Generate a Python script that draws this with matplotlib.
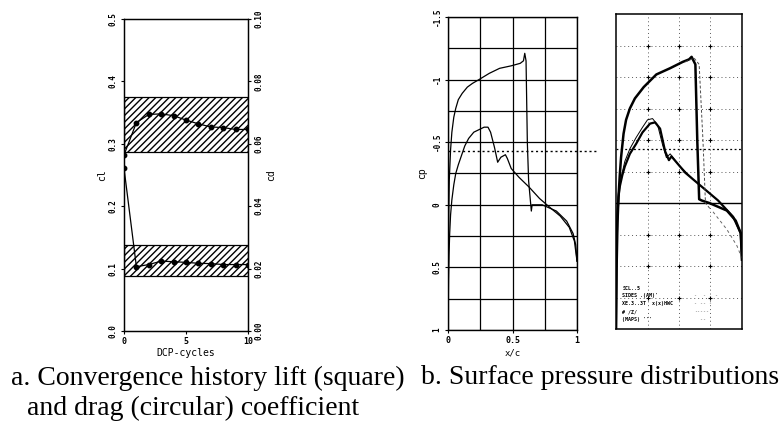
import numpy as np
import matplotlib
matplotlib.use("Agg")
import matplotlib.pyplot as plt

# ---- panel a : convergence history ----
cycles = [0, 1, 2, 3, 4, 5, 6, 7, 8, 9, 10]
cl_hist = [0.282, 0.334, 0.347, 0.348, 0.345, 0.338, 0.332, 0.327, 0.326, 0.323, 0.323]
cd_hist = [0.0522, 0.0206, 0.0213, 0.0224, 0.0222, 0.0220, 0.0217, 0.0216, 0.0213, 0.0213, 0.0213]
cl_band = (0.287, 0.375)
cd_band = (0.0176, 0.0276)
cl_ticks = [0.0, 0.1, 0.2, 0.3, 0.4, 0.5]
cd_ticks = [0.0, 0.02, 0.04, 0.06, 0.08, 0.10]

# ---- panel b : surface pressure, computed ----
xu = [0, 0.001, 0.003, 0.006, 0.01, 0.02, 0.03, 0.045, 0.06, 0.08, 0.11, 0.15, 0.19, 0.24,
      0.32, 0.40, 0.49, 0.56, 0.585, 0.595, 0.605, 0.615, 0.625, 0.646, 0.652, 0.73, 0.84,
      0.92, 0.97, 0.99, 1.0]
cpu = [1.0, 0.7, 0.35, 0.05, -0.2, -0.44, -0.58, -0.70, -0.77, -0.84, -0.89, -0.94, -0.97,
       -1.0, -1.05, -1.09, -1.11, -1.13, -1.15, -1.21, -1.15, -0.5, -0.19, 0.05, 0.0, 0.0,
       0.05, 0.13, 0.23, 0.32, 0.45]
xl = [0, 0.004, 0.008, 0.013, 0.02, 0.03, 0.045, 0.06, 0.08, 0.10, 0.13, 0.16, 0.20, 0.24,
      0.28, 0.31, 0.33, 0.36, 0.385, 0.41, 0.445, 0.46, 0.49, 0.55, 0.63, 0.71, 0.80, 0.87,
      0.94, 0.98, 1.0]
cpl = [1.0, 0.6, 0.4, 0.23, 0.08, -0.04, -0.16, -0.25, -0.32, -0.38, -0.47, -0.53, -0.58,
       -0.60, -0.62, -0.62, -0.58, -0.46, -0.34, -0.38, -0.40, -0.37, -0.29, -0.22, -0.14,
       -0.05, 0.03, 0.09, 0.18, 0.29, 0.45]
cp_star = -0.43

# ---- panel b : comparison plot ----
xu2 = [0, 0.005, 0.012, 0.02, 0.03, 0.04, 0.06, 0.08, 0.11, 0.15, 0.22, 0.32, 0.43, 0.53,
       0.58, 0.60, 0.63, 0.645, 0.66, 0.68, 0.74, 0.88, 0.95, 0.99, 1.0]
cpu2 = [1.0, 0.5, 0.15, -0.05, -0.22, -0.36, -0.55, -0.66, -0.75, -0.83, -0.92, -1.02,
        -1.07, -1.12, -1.14, -1.16, -1.10, -0.5, -0.03, -0.02, 0.0, 0.06, 0.14, 0.24, 0.45]
xl2 = [0, 0.005, 0.012, 0.02, 0.03, 0.05, 0.07, 0.11, 0.16, 0.21, 0.27, 0.31, 0.35, 0.39,
       0.42, 0.44, 0.55, 0.68, 0.81, 0.93, 0.99, 1.0]
cpl2 = [1.0, 0.3, 0.08, -0.05, -0.13, -0.22, -0.29, -0.39, -0.47, -0.56, -0.63, -0.64,
        -0.59, -0.41, -0.34, -0.37, -0.24, -0.13, -0.02, 0.11, 0.24, 0.45]
xl3 = [0.02, 0.04, 0.07, 0.11, 0.16, 0.21, 0.25, 0.29, 0.33, 0.37, 0.40, 0.43, 0.5, 0.6]
cpl3 = [-0.05, -0.2, -0.33, -0.43, -0.52, -0.60, -0.66, -0.67, -0.62, -0.46, -0.36, -0.39,
        -0.30, -0.20]
xs_dash = [0.55, 0.62, 0.66, 0.69, 0.71, 0.75]
cps_dash = [-1.12, -1.15, -1.10, -0.5, 0.0, 0.05]
xte_dash = [0.77, 0.88, 0.96, 1.0]
cpte_dash = [0.07, 0.21, 0.34, 0.44]
box_lines = ["SCL..5", "SIDES .(AM)'", "XE.3..3T  x(x)HWC", "# /Z/", "(MAPS) '''"]

mono = "DejaVu Sans Mono"
tfs = 5.5

fig = plt.figure(figsize=(7.81, 4.32), dpi=100)

# panel a
ax = fig.add_axes([124/781, 1-331/432, 124/781, 312/432])
ax.axhspan(*cl_band, fill=False, hatch="/////", edgecolor="black", linewidth=0.9)
ax.axhspan(cd_band[0]*5, cd_band[1]*5, fill=False, hatch="/////", edgecolor="black", linewidth=0.9)
ax.plot(cycles, cl_hist, color="black", lw=0.9, marker="o", ms=3.2)
ax.set_xlim(0, 10)
ax.set_ylim(0, 0.5)
ax.set_yticks(cl_ticks)
ax.set_yticklabels(["%.1f" % v for v in cl_ticks], rotation=90, va="center",
                   family=mono, fontsize=tfs, fontweight="bold")
ax.set_xticks([0, 5, 10])
ax.set_xticklabels(["0", "5", "10"], family=mono, fontsize=tfs + 0.5, fontweight="bold")
ax.set_xlabel("DCP-cycles", family=mono, fontsize=tfs + 1.5, labelpad=1)
ax.set_ylabel("cl", family=mono, fontsize=tfs + 1.5, labelpad=1)
ax.tick_params(length=2.5, width=0.8, pad=2)
ax2 = ax.twinx()
ax2.plot(cycles, cd_hist, color="black", lw=0.9, marker="o", ms=3.2)
ax2.set_ylim(0, 0.1)
ax2.set_yticks(cd_ticks)
ax2.set_yticklabels(["%.2f" % v for v in cd_ticks], rotation=90, va="center",
                    family=mono, fontsize=tfs, fontweight="bold")
ax2.set_ylabel("cd", family=mono, fontsize=tfs + 1.5, labelpad=2)
ax2.tick_params(length=2.5, width=0.8, pad=2)
for a in (ax, ax2):
    for s in a.spines.values():
        s.set_linewidth(0.9)

# panel b, left
bx = fig.add_axes([448/781, 1-330/432, 129/781, 313/432])
bx.plot(xu, cpu, color="black", lw=0.9)
bx.plot(xl, cpl, color="black", lw=0.9)
bx.plot([0, 1.15], [cp_star, cp_star], color="black", lw=1.0, ls=(0, (1.5, 2)), clip_on=False)
bx.set_xlim(0, 1)
bx.set_ylim(1, -1.5)
bx.set_xticks(np.arange(0, 1.01, 0.25), minor=True)
bx.set_yticks(np.arange(-1.5, 1.01, 0.25), minor=True)
bx.grid(True, which="both", color="black", lw=0.9)
bx.set_xticks([0, 0.5, 1])
bx.set_xticklabels(["0", "0.5", "1"], family=mono, fontsize=tfs + 0.5, fontweight="bold")
bx.set_yticks([-1.5, -1, -0.5, 0, 0.5, 1])
bx.set_yticklabels(["-1.5", "-1", "-0.5", "0", "0.5", "1"], rotation=90, va="center",
                   family=mono, fontsize=tfs, fontweight="bold")
bx.tick_params(which="major", length=2.5, width=0.8, pad=2)
bx.tick_params(which="minor", length=0)
bx.set_xlabel("x/c", family=mono, fontsize=tfs + 1, labelpad=2)
bx.set_ylabel("cp", family=mono, fontsize=tfs + 1.5, labelpad=4)
for s in bx.spines.values():
    s.set_linewidth(1.0)

# panel b, right
cx = fig.add_axes([616/781, 1-329/432, 126/781, 315/432])
cx.set_xlim(0, 1)
cx.set_ylim(1, -1.5)
gx = [0.25, 0.5, 0.75]
gy = [-1.25, -1.0, -0.75, -0.5, -0.25, 0.25, 0.5, 0.75]
for v in gx:
    cx.axvline(v, color="0.35", lw=0.7, ls=(0, (1, 3)))
for v in gy:
    cx.axhline(v, color="0.35", lw=0.7, ls=(0, (1, 3)))
gxx, gyy = np.meshgrid(gx, gy)
cx.plot(gxx.ravel(), gyy.ravel(), ls="none", marker="+", ms=3, color="black", mew=0.8)
cx.axhline(0, color="black", lw=1.0)
cx.plot([0, 1], [cp_star, cp_star], color="black", lw=0.9, ls=(0, (1.5, 2)))
cx.plot(xu2, cpu2, color="black", lw=1.8)
cx.plot(xl2, cpl2, color="black", lw=1.6)
cx.plot(xl3, cpl3, color="black", lw=0.7)
cx.plot(xs_dash, cps_dash, color="0.3", lw=0.7, ls=(0, (3, 2)))
cx.plot(xte_dash, cpte_dash, color="0.4", lw=0.7, ls=(0, (3, 3)))
cx.set_xticks([])
cx.set_yticks([])
for s in cx.spines.values():
    s.set_linewidth(1.1)
for i, t in enumerate(box_lines):
    cx.text(0.05, 0.13 - i * 0.025, t, transform=cx.transAxes, fontsize=3.6,
            family=mono, fontweight="bold", va="center")
for i, t in enumerate(["-  -   -", "- -- -", "-----", "  --"]):
    cx.text(0.62, 0.105 - i * 0.025, t, transform=cx.transAxes, fontsize=3.6,
            family=mono, color="0.4", va="center")

# captions
serif = "Liberation Serif"
cap_fs = 20
fig.text(11/781, 1-378/432, "a. Convergence history lift (square)", family=serif,
         fontsize=cap_fs, va="center")
fig.text(27/781, 1-408/432, "and drag (circular) coefficient", family=serif,
         fontsize=cap_fs, va="center")
fig.text(779/781, 1-378/432, "b. Surface pressure distributions", family=serif,
         fontsize=cap_fs, va="center", ha="right")

fig.savefig("out.png", dpi=100)
